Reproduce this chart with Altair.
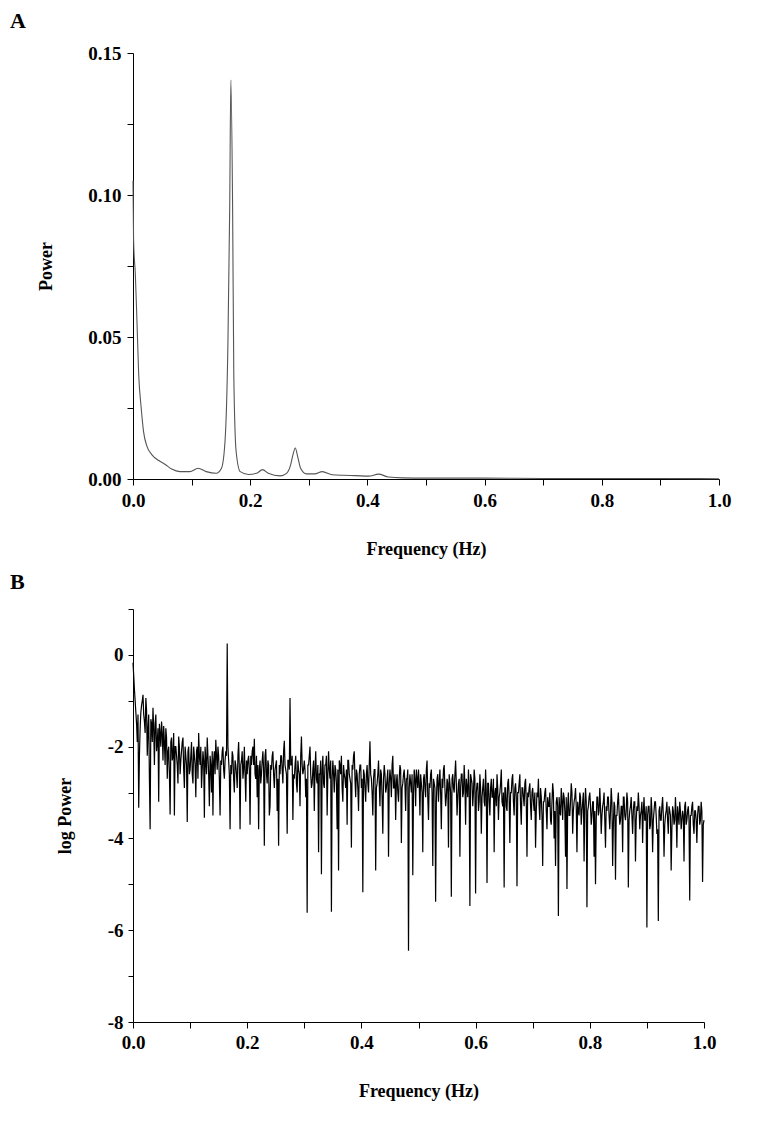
import altair as alt
import pandas as pd

# ---------------- Panel A: power spectrum ----------------
freq_a = [0.000, 0.001, 0.004, 0.007, 0.0097, 0.014, 0.018, 0.024, 0.032, 0.044,
          0.055, 0.066, 0.080, 0.097, 0.111, 0.125, 0.142, 0.151, 0.157, 0.162,
          0.165, 0.167, 0.170, 0.172, 0.176, 0.183, 0.197, 0.211, 0.221, 0.231,
          0.251, 0.262, 0.269, 0.273, 0.277, 0.281, 0.286, 0.296, 0.310, 0.323,
          0.340, 0.360, 0.380, 0.402, 0.419, 0.436, 0.460, 0.500, 0.600, 0.700,
          0.800, 0.900, 1.000]
power_a = [0.105, 0.084, 0.072, 0.054, 0.037, 0.025, 0.0167, 0.0114, 0.0086, 0.0065,
           0.0051, 0.0035, 0.0026, 0.0026, 0.0038, 0.0026, 0.0020, 0.0038, 0.0132, 0.048,
           0.095, 0.1405, 0.095, 0.037, 0.0097, 0.0026, 0.0016, 0.0020, 0.0033, 0.0020,
           0.0011, 0.0020, 0.0050, 0.0086, 0.0109, 0.0079, 0.0038, 0.0018, 0.0018, 0.0026,
           0.0015, 0.0013, 0.0012, 0.0010, 0.0017, 0.0007, 0.0004, 0.0003, 0.0003, 0.0002,
           0.0002, 0.0002, 0.0001]

# ---------------- Panel B: log power spectrum ----------------
# values on the 0.0025 Hz grid (0, 0.0025, ..., 1.0)
logp_0 = [-0.17, -0.75, -1.25, -1.9, -3.33, -1.6, -1.1, -0.87, -1.45, -0.94,
          -2.2, -1.3, -3.8, -1.5, -1.15, -2.4, -1.3, -1.9, -3.2, -1.7,
          -1.45, -2.3, -1.9, -1.6, -2.7, -2.0, -3.48, -1.8, -2.2, -3.5,
          -2.0, -2.4, -1.78, -2.6, -2.1, -1.8, -2.9, -2.2, -3.64, -2.0]
logp_1 = [-2.5, -1.9, -2.8, -2.2, -3.1, -2.0, -1.7, -2.4, -2.9, -2.1,
          -3.55, -2.3, -1.8, -2.6, -2.2, -3.0, -3.5, -2.1, -1.85, -2.5,
          -2.2, -3.5, -2.4, -2.0, -2.7, -2.1, 0.25, -2.3, -3.8, -2.6,
          -2.2, -3.0, -2.4, -2.9, -1.9, -3.8, -2.3, -2.7, -2.0, -3.2]
logp_2 = [-2.6, -2.2, -3.7, -2.4, -2.0, -1.83, -2.7, -3.1, -3.8, -2.3,
          -2.6, -2.1, -4.16, -2.05, -2.8, -2.4, -3.3, -2.5, -2.1, -2.9,
          -2.4, -3.4, -4.16, -2.6, -2.2, -2.8, -1.87, -2.5, -3.9, -2.3,
          -0.94, -2.4, -3.6, -2.7, -2.2, -3.0, -2.5, -3.3, -1.78, -2.6]
logp_3 = [-2.3, -3.1, -5.62, -2.4, -2.0, -2.9, -2.5, -3.4, -2.1, -2.8,
          -4.3, -2.6, -4.78, -2.2, -2.9, -2.4, -3.5, -2.1, -2.7, -5.6,
          -2.3, -3.0, -2.5, -3.8, -4.7, -2.4, -2.2, -3.2, -2.6, -2.9,
          -3.7, -2.3, -2.7, -4.2, -2.5, -2.1, -3.1, -2.6, -3.4, -2.4]
logp_4 = [-2.9, -5.17, -2.6, -3.2, -2.4, -3.0, -1.88, -2.7, -3.5, -2.5,
          -4.7, -2.8, -2.3, -3.3, -2.6, -3.9, -2.4, -3.0, -2.7, -4.4,
          -2.5, -3.1, -2.2, -2.9, -3.6, -2.6, -3.2, -2.4, -4.1, -2.8,
          -2.5, -3.4, -2.7, -6.45, -2.6, -3.0, -4.8, -2.5, -3.3, -2.7]
logp_5 = [-2.5, -3.5, -2.8, -4.3, -2.6, -3.1, -2.3, -3.6, -2.9, -2.5,
          -4.6, -2.8, -5.38, -2.7, -3.2, -2.5, -3.8, -2.9, -2.4, -3.3,
          -2.7, -4.2, -2.8, -5.27, -2.6, -3.0, -2.3, -3.5, -2.8, -4.4,
          -2.6, -3.1, -2.4, -3.7, -2.9, -2.5, -5.47, -2.7, -3.3, -2.5]
logp_6 = [-5.2, -2.8, -3.4, -2.6, -3.9, -2.9, -3.2, -2.5, -4.97, -2.8,
          -3.5, -2.7, -3.1, -4.3, -2.9, -2.6, -3.6, -3.0, -2.5, -3.3,
          -5.07, -2.9, -3.4, -2.7, -4.1, -3.0, -2.6, -3.5, -2.8, -5.04,
          -3.0, -2.6, -3.7, -2.9, -3.3, -2.7, -4.4, -3.1, -2.8, -3.6]
logp_7 = [-2.9, -3.4, -4.2, -3.0, -2.7, -3.6, -3.1, -4.6, -3.2, -2.9,
          -3.8, -3.3, -3.0, -3.7, -2.8, -4.0, -4.6, -3.1, -5.69, -3.4,
          -2.9, -3.6, -3.1, -4.4, -5.1, -3.0, -3.5, -2.8, -3.9, -3.2,
          -2.9, -4.3, -3.4, -3.0, -3.7, -3.2, -4.5, -2.9, -5.5, -3.3]
logp_8 = [-3.0, -3.7, -3.2, -4.4, -5.0, -3.1, -3.5, -2.9, -3.9, -3.3,
          -3.0, -4.2, -3.4, -3.1, -3.8, -2.9, -4.6, -3.2, -4.9, -3.5,
          -3.0, -3.7, -3.3, -4.3, -3.1, -3.6, -3.0, -5.07, -3.4, -3.1,
          -3.9, -3.2, -4.5, -3.3, -3.0, -3.8, -3.4, -4.1, -3.1, -3.6]
logp_9 = [-5.94, -3.3, -3.8, -3.1, -4.3, -3.4, -3.2, -3.9, -5.8, -3.3,
          -3.6, -3.1, -4.4, -3.5, -3.2, -3.9, -3.4, -4.7, -3.3, -3.7,
          -3.1, -4.2, -3.5, -3.2, -3.8, -3.4, -4.5, -3.2, -3.6, -3.3,
          -5.35, -3.5, -3.2, -3.9, -3.4, -4.1, -3.3, -3.7, -3.2, -4.95,
          -3.6]

# values on the half-bins (0.00125, 0.00375, ..., 0.99875)
half_0 = [-0.45, -1.0, -1.5, -1.3, -2.2, -1.25, -1.0, -1.3, -1.7, -1.2,
          -1.6, -2.7, -1.4, -1.9, -1.6, -1.5, -2.1, -1.6, -1.5, -2.0,
          -1.7, -1.55, -2.4, -1.8, -2.1, -2.6, -1.9, -2.3, -1.7, -2.0,
          -2.2, -2.8, -2.0, -2.3, -1.9, -2.5, -2.0, -2.4, -2.1, -2.6]
half_1 = [-2.2, -2.6, -2.0, -2.4, -2.1, -2.7, -2.2, -2.0, -2.5, -2.3,
          -2.0, -2.6, -2.2, -3.3, -2.4, -2.1, -2.3, -2.6, -2.2, -2.0,
          -2.7, -2.3, -2.1, -2.5, -2.3, -2.2, -2.0, -2.6, -2.4, -2.1,
          -2.7, -2.3, -2.6, -2.2, -2.5, -2.4, -2.1, -2.5, -2.6, -2.3]
half_2 = [-2.3, -2.5, -2.2, -2.1, -2.4, -2.6, -2.2, -2.4, -2.5, -2.8,
          -2.3, -2.5, -2.2, -2.6, -2.3, -3.5, -2.4, -2.2, -2.6, -2.5,
          -2.3, -2.7, -2.4, -2.2, -2.5, -2.1, -2.4, -2.6, -2.3, -2.5,
          -2.4, -2.2, -2.6, -2.4, -2.8, -2.3, -2.6, -2.2, -2.4, -2.5]
half_3 = [-2.5, -2.7, -2.4, -2.2, -2.6, -2.8, -2.3, -2.5, -2.7, -2.4,
          -2.6, -2.3, -2.5, -2.8, -2.4, -2.2, -2.6, -2.5, -2.3, -2.7,
          -2.6, -2.4, -2.8, -2.5, -2.3, -2.6, -2.9, -2.4, -2.7, -2.5,
          -2.3, -2.6, -2.8, -2.4, -2.2, -2.7, -2.5, -2.9, -2.6, -2.4]
half_4 = [-2.7, -2.5, -2.9, -2.6, -2.8, -2.4, -2.6, -3.0, -2.7, -2.5,
          -2.9, -2.6, -2.8, -2.5, -3.1, -2.7, -2.6, -2.9, -2.5, -2.8,
          -2.7, -2.4, -2.9, -2.6, -2.8, -3.0, -2.7, -2.5, -2.9, -2.6,
          -2.8, -2.7, -2.5, -2.9, -2.8, -2.6, -3.0, -2.7, -2.5, -2.9]
half_5 = [-2.8, -2.6, -3.0, -2.7, -2.9, -2.5, -3.1, -2.8, -2.6, -3.0,
          -2.7, -2.9, -3.2, -2.6, -2.8, -3.0, -2.7, -2.5, -2.9, -3.1,
          -2.8, -2.6, -3.0, -2.7, -2.9, -2.6, -2.8, -3.1, -2.7, -2.9,
          -2.6, -3.0, -2.8, -2.7, -3.1, -2.9, -2.6, -2.8, -3.0, -2.7]
half_6 = [-3.0, -2.8, -3.2, -2.9, -3.1, -2.7, -3.3, -3.0, -2.8, -3.2,
          -2.9, -3.1, -2.7, -3.0, -3.3, -2.9, -3.1, -2.8, -3.2, -3.0,
          -2.9, -3.3, -2.8, -3.1, -3.0, -2.7, -3.2, -2.9, -3.1, -3.0,
          -2.8, -3.3, -2.9, -3.1, -2.8, -3.2, -3.0, -2.9, -3.3, -3.0]
half_7 = [-3.2, -3.0, -3.4, -3.1, -3.3, -2.9, -3.5, -3.2, -3.0, -3.4,
          -3.1, -3.3, -3.6, -3.2, -3.0, -3.4, -3.2, -3.3, -3.1, -3.5,
          -3.2, -3.0, -3.4, -3.1, -3.3, -3.5, -3.2, -3.0, -3.4, -3.1,
          -3.3, -3.2, -3.5, -3.1, -3.4, -3.0, -3.3, -3.2, -3.4, -3.1]
half_8 = [-3.3, -3.5, -3.2, -3.4, -3.6, -3.1, -3.4, -3.3, -3.5, -3.2,
          -3.6, -3.3, -3.1, -3.5, -3.4, -3.2, -3.7, -3.3, -3.5, -3.2,
          -3.4, -3.6, -3.3, -3.1, -3.5, -3.4, -3.2, -3.6, -3.3, -3.5,
          -3.4, -3.2, -3.6, -3.4, -3.3, -3.5, -3.2, -3.4, -3.6, -3.3]
half_9 = [-3.5, -3.3, -3.7, -3.4, -3.6, -3.2, -3.5, -3.8, -3.4, -3.6,
          -3.3, -3.5, -3.7, -3.4, -3.6, -3.3, -3.5, -3.8, -3.4, -3.6,
          -3.5, -3.3, -3.7, -3.4, -3.6, -3.5, -3.3, -3.7, -3.4, -3.6,
          -3.5, -3.3, -3.7, -3.4, -3.6, -3.5, -3.3, -3.6, -3.4, -3.7]

grid_vals = (logp_0 + logp_1 + logp_2 + logp_3 + logp_4 +
             logp_5 + logp_6 + logp_7 + logp_8 + logp_9)
half_vals = (half_0 + half_1 + half_2 + half_3 + half_4 +
             half_5 + half_6 + half_7 + half_8 + half_9)
bin_width = 0.0025

freq_b, log_power = [], []
for i, v in enumerate(grid_vals):
    freq_b.append(round(i * bin_width, 5))
    log_power.append(v)
    if i < len(half_vals):
        freq_b.append(round((i + 0.5) * bin_width, 5))
        log_power.append(half_vals[i])

x_ticks = [0.0, 0.1, 0.2, 0.3, 0.4, 0.5, 0.6, 0.7, 0.8, 0.9, 1.0]
ya_ticks = [0.0, 0.025, 0.05, 0.075, 0.10, 0.125, 0.15]
yb_ticks = [1, 0, -1, -2, -3, -4, -5, -6, -7, -8]

df_a = pd.DataFrame({"f": freq_a, "p": power_a})
df_b = pd.DataFrame({"f": freq_b, "lp": log_power})

FONT = "Liberation Serif"

x_major = "round(datum.value*10) % 2 == 0"


def x_axis(label_pad, title_pad):
    return alt.Axis(values=x_ticks,
                    labelExpr=f"{x_major} ? format(datum.value, '.1f') : ''",
                    title="Frequency (Hz)", tickSize=6, labelPadding=label_pad,
                    titlePadding=title_pad, grid=False, labelFlush=False)


line_a = alt.Chart(df_a).mark_line(color="#555555", strokeWidth=1.1,
                                   interpolate="monotone").encode(
    x=alt.X("f:Q", scale=alt.Scale(domain=[0, 1], nice=False, zero=False),
            axis=x_axis(6, 30)),
    y=alt.Y("p:Q", scale=alt.Scale(domain=[0, 0.15], nice=False),
            axis=alt.Axis(values=ya_ticks,
                          labelExpr="round(datum.value*40) % 2 == 0 ? format(datum.value, '.2f') : ''",
                          title="Power", tickSize=6, labelPadding=6, titlePadding=32,
                          grid=False, labelFlush=False)),
)

lab_a = alt.Chart(pd.DataFrame({"t": ["A"]})).mark_text(
    align="left", baseline="top", font=FONT, fontSize=22, fontWeight="bold",
    color="black").encode(x=alt.value(-123), y=alt.value(-42), text="t:N")

panel_a = alt.layer(line_a, lab_a).properties(width=586, height=426)

line_b = alt.Chart(df_b).mark_line(color="black", strokeWidth=1.2).encode(
    x=alt.X("f:Q", scale=alt.Scale(domain=[0, 1], nice=False, zero=False),
            axis=x_axis(5, 30)),
    y=alt.Y("lp:Q", scale=alt.Scale(domain=[-8, 1], nice=False, zero=False),
            axis=alt.Axis(values=yb_ticks,
                          labelExpr="datum.value % 2 == 0 ? toString(datum.value) : ''",
                          title="log Power", tickSize=5, labelPadding=5, titlePadding=33,
                          grid=False, labelFlush=False)),
)

lab_b = alt.Chart(pd.DataFrame({"t": ["B"]})).mark_text(
    align="left", baseline="top", font=FONT, fontSize=22, fontWeight="bold",
    color="black").encode(x=alt.value(-123), y=alt.value(-37), text="t:N")

panel_b = alt.layer(line_b, lab_b).properties(width=571, height=413)

chart = alt.vconcat(panel_a, panel_b, spacing=13).properties(
    padding={"left": 2, "top": 2, "right": 5, "bottom": 5}
).configure_view(stroke=None).configure_axis(
    labelFont=FONT, labelFontSize=19, labelFontWeight="bold", labelColor="black",
    titleFont=FONT, titleFontSize=18, titleFontWeight="bold", titleColor="black",
    domainColor="black", domainWidth=1, tickColor="black", tickWidth=1,
)

chart.save("out.html", embed_options={"renderer": "svg", "actions": False})
